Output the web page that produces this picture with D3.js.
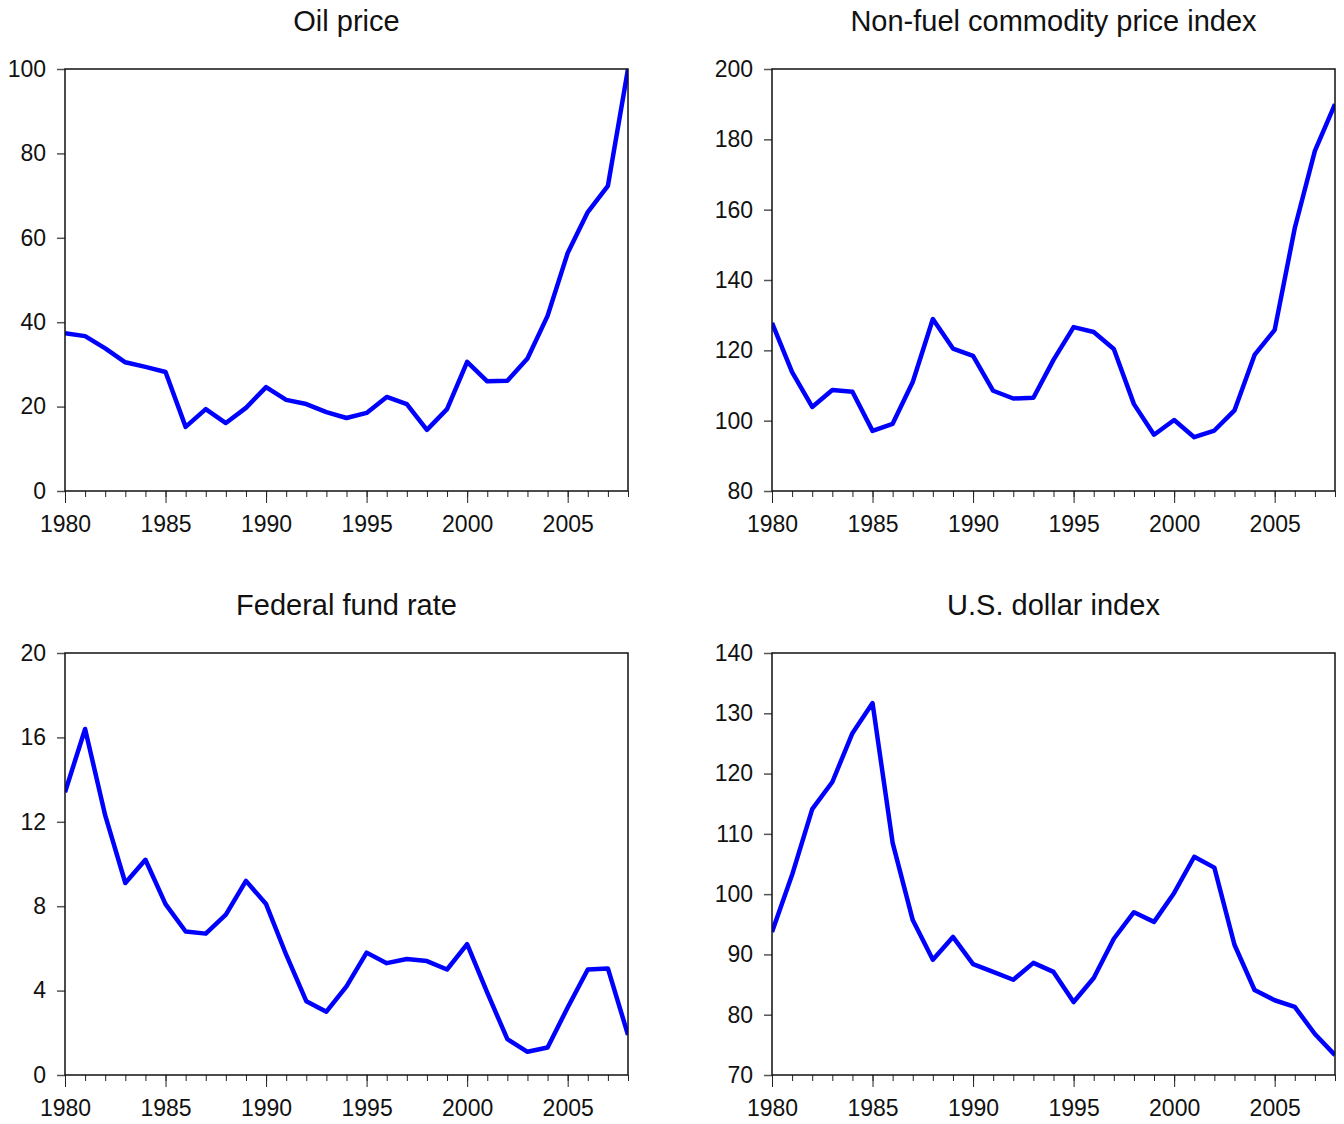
<!DOCTYPE html>
<html>
<head>
<meta charset="utf-8">
<script src="https://cdn.jsdelivr.net/npm/d3@7"></script>
<style>
  body { margin: 0; background: #fff; }
  svg { display: block; font-family: "Liberation Sans", Arial, sans-serif; }
</style>
</head>
<body>
<svg id="chart" width="1344" height="1124"></svg>
<script>
// years 1980..2008
const years = d3.range(1980, 2009);

const oilPrice = [37.4, 36.7, 33.8, 30.5, 29.4, 28.2, 15.2, 19.4, 16.1, 19.7,
  24.6, 21.6, 20.6, 18.7, 17.3, 18.5, 22.3, 20.6, 14.5, 19.4,
  30.6, 26.0, 26.1, 31.4, 41.5, 56.4, 66.1, 72.3, 100];

const nonFuel = [127.8, 113.8, 103.9, 108.7, 108.2, 97.1, 99.1, 111.0, 128.9, 120.5,
  118.4, 108.5, 106.3, 106.5, 117.3, 126.6, 125.2, 120.4, 104.7, 96.0,
  100.2, 95.3, 97.2, 102.9, 118.7, 125.8, 154.8, 176.7, 190.0];

const fedFund = [13.4, 16.4, 12.3, 9.1, 10.2, 8.1, 6.8, 6.7, 7.6, 9.2,
  8.1, 5.7, 3.5, 3.0, 4.2, 5.8, 5.3, 5.5, 5.4, 5.0,
  6.2, 3.9, 1.7, 1.1, 1.3, 3.2, 5.0, 5.05, 1.9];

const dollarIndex = [93.7, 103.2, 114.1, 118.6, 126.7, 131.7, 108.5, 95.7, 89.1, 92.9,
  88.4, 87.1, 85.8, 88.6, 87.1, 82.1, 86.1, 92.6, 97.0, 95.4,
  100.2, 106.2, 104.4, 91.6, 84.1, 82.4, 81.3, 76.8, 73.3];

const majorYears = [1980, 1985, 1990, 1995, 2000, 2005];

const panels = [
  { title: "Oil price", values: oilPrice, domain: [0, 100], ticks: [0, 20, 40, 60, 80, 100], left: 65, top: 69 },
  { title: "Non-fuel commodity price index", values: nonFuel, domain: [80, 200], ticks: [80, 100, 120, 140, 160, 180, 200], left: 772, top: 69 },
  { title: "Federal fund rate", values: fedFund, domain: [0, 20], ticks: [0, 4, 8, 12, 16, 20], left: 65, top: 653 },
  { title: "U.S. dollar index", values: dollarIndex, domain: [70, 140], ticks: [70, 80, 90, 100, 110, 120, 130, 140], left: 772, top: 653 }
];

const W = 563, H = 422;
const svg = d3.select("#chart");

panels.forEach(p => {
  const g = svg.append("g").attr("transform", `translate(${p.left},${p.top})`);

  const x = d3.scaleLinear().domain([1980, 2008]).range([0, W]);
  const y = d3.scaleLinear().domain(p.domain).range([H, 0]);

  // title
  g.append("text")
    .attr("x", W / 2)
    .attr("y", -38)
    .attr("text-anchor", "middle")
    .style("font-size", "29px")
    .style("fill", "#111")
    .text(p.title);

  // minor x ticks (every year)
  g.append("g")
    .attr("transform", `translate(0,${H})`)
    .call(d3.axisBottom(x).tickValues(years).tickSize(6).tickFormat(""))
    .call(a => a.select(".domain").remove())
    .call(a => a.selectAll("line").attr("stroke", "#222").attr("stroke-width", 1));

  // major x ticks with labels
  g.append("g")
    .attr("transform", `translate(0,${H})`)
    .call(d3.axisBottom(x).tickValues(majorYears).tickSize(12).tickPadding(13).tickFormat(d3.format("d")))
    .call(a => a.select(".domain").remove())
    .call(a => a.selectAll("line").attr("stroke", "#222").attr("stroke-width", 1))
    .call(a => a.selectAll("text").style("font-size", "23px").attr("fill", "#111")
      .style("font-family", "'Liberation Sans', Arial, sans-serif"));

  // y ticks
  g.append("g")
    .call(d3.axisLeft(y).tickValues(p.ticks).tickSize(8).tickPadding(11))
    .call(a => a.select(".domain").remove())
    .call(a => a.selectAll("line").attr("stroke", "#555").attr("stroke-width", 1.5))
    .call(a => a.selectAll("text").style("font-size", "23px").attr("fill", "#111")
      .style("font-family", "'Liberation Sans', Arial, sans-serif"));

  // series line
  const line = d3.line()
    .x((d, i) => x(years[i]))
    .y(d => y(d));

  g.append("defs").append("clipPath")
    .attr("id", "clip-" + p.left + "-" + p.top)
    .append("rect").attr("width", W).attr("height", H);

  g.append("path")
    .datum(p.values)
    .attr("clip-path", `url(#clip-${p.left}-${p.top})`)
    .attr("fill", "none")
    .attr("stroke", "#0000ff")
    .attr("stroke-width", 4.5)
    .attr("stroke-linejoin", "round")
    .attr("d", line);

  // frame
  g.append("rect")
    .attr("width", W)
    .attr("height", H)
    .attr("fill", "none")
    .attr("stroke", "#111")
    .attr("stroke-width", 1.5);
});
</script>
</body>
</html>
